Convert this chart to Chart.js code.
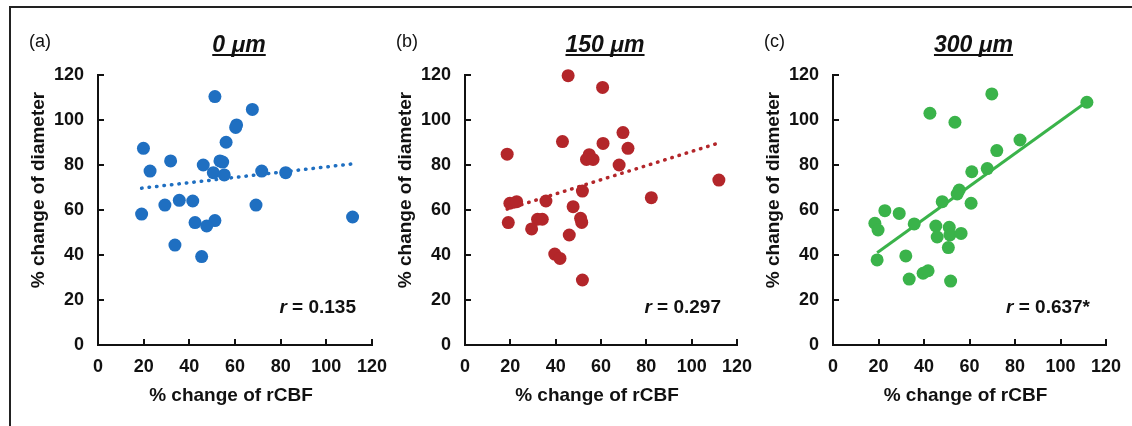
<!DOCTYPE html>
<html>
<head>
<meta charset="utf-8">
<script src="https://cdn.jsdelivr.net/npm/chart.js@4.4.0/dist/chart.umd.min.js"></script>
<style>
  body { margin: 0; background: #fff; }
  #wrap { position: relative; width: 1132px; height: 426px; overflow: hidden; }
  #frame { position: absolute; left: 9px; top: 6px; width: 1200px; height: 500px;
           border-left: 2px solid #222; border-top: 2px solid #222; }
  canvas { position: absolute; top: 0; }
</style>
</head>
<body>
<div id="wrap">
  <div id="frame"></div>
  <canvas id="c0" width="400" height="426" style="left:0px"></canvas>
  <canvas id="c1" width="390" height="426" style="left:380px"></canvas>
  <canvas id="c2" width="382" height="426" style="left:750px"></canvas>
</div>
<script>
const tickValues = [0, 20, 40, 60, 80, 100, 120];

// (a) 0 um
const rcbf0 = [51.2, 67.6, 60.7, 60.3, 56.1, 19.9, 31.8, 53.4, 54.6, 46.1, 22.8, 50.5, 55.3,
               71.7, 82.2, 35.6, 41.5, 29.3, 69.2, 19.1, 111.5, 42.5, 51.2, 47.6, 33.7, 45.4];
const diam0 = [110.4, 104.7, 97.8, 96.7, 90.1, 87.4, 81.8, 81.8, 81.3, 80.0, 77.3, 76.6, 75.6,
               77.3, 76.6, 64.3, 64.0, 62.2, 62.2, 58.2, 56.9, 54.4, 55.3, 52.9, 44.4, 39.3];
const fitX0 = [19.1, 111.5];
const fitY0 = [69.7, 80.5];

// (b) 150 um
const rcbf150 = [45.5, 60.7, 69.7, 43.0, 60.9, 71.9, 18.6, 54.8, 53.6, 56.5, 68.0, 112.0, 51.8, 82.2,
                 19.8, 22.8, 35.7, 47.7, 19.1, 32.0, 34.1, 51.0, 51.5, 29.4, 46.0, 39.6, 41.9, 51.8];
const diam150 = [119.7, 114.5, 94.4, 90.4, 89.6, 87.4, 84.8, 84.6, 82.5, 82.5, 80.0, 73.3, 68.4, 65.5,
                 63.0, 63.7, 64.0, 61.5, 54.4, 55.9, 55.9, 56.3, 54.5, 51.6, 48.9, 40.4, 38.5, 28.9];
const fitX150 = [18.6, 112.0];
const fitY150 = [60.4, 89.8];

// (c) 300 um
const rcbf300 = [69.8, 111.6, 42.6, 53.6, 82.2, 72.0, 61.0, 67.8, 55.5, 54.6, 48.0, 60.7, 22.8, 29.1, 18.4,
                 19.8, 35.7, 45.2, 51.1, 51.4, 56.3, 45.8, 50.7, 19.4, 32.0, 39.6, 41.8, 33.5, 51.7];
const diam300 = [111.6, 107.9, 103.0, 99.0, 91.1, 86.4, 77.0, 78.4, 68.9, 67.1, 63.7, 63.0, 59.7, 58.5, 54.1,
                 51.1, 53.8, 52.9, 52.3, 48.9, 49.6, 48.0, 43.3, 37.8, 39.6, 31.9, 33.0, 29.3, 28.4];
const fitX300 = [19.4, 111.6];
const fitY300 = [41.0, 108.1];

const panels = [
  { id: 'c0', tag: '(a)', head: '0 \u03bcm', r: ' = 0.135', xs: rcbf0, ys: diam0, fx: fitX0, fy: fitY0,
    color: '#1f6fc1', dash: [0.5, 7], left: 98, right: 28 },
  { id: 'c1', tag: '(b)', head: '150 \u03bcm', r: ' = 0.297', xs: rcbf150, ys: diam150, fx: fitX150, fy: fitY150,
    color: '#b3262a', dash: [0.5, 7], left: 85, right: 33 },
  { id: 'c2', tag: '(c)', head: '300 \u03bcm', r: ' = 0.637*', xs: rcbf300, ys: diam300, fx: fitX300, fy: fitY300,
    color: '#3ab34a', dash: [], left: 83, right: 26 }
];

const ink = '#111';
const family = '"Liberation Sans", Arial, sans-serif';

const decor = {
  id: 'decor',
  afterDraw(chart, args, opts) {
    const { ctx, chartArea: a, scales: { x, y } } = chart;
    ctx.save();
    ctx.strokeStyle = ink;
    ctx.fillStyle = ink;
    ctx.lineWidth = 2;

    // inward tick marks
    ctx.beginPath();
    tickValues.forEach(v => {
      const px = Math.round(x.getPixelForValue(v));
      ctx.moveTo(px, a.bottom);
      ctx.lineTo(px, a.bottom - 6);
      const py = Math.round(y.getPixelForValue(v));
      ctx.moveTo(a.left, py);
      ctx.lineTo(a.left + 6, py);
    });
    ctx.stroke();

    const cx = (a.left + a.right) / 2;

    // panel letter
    ctx.font = '18px ' + family;
    ctx.textAlign = 'left';
    ctx.textBaseline = 'middle';
    ctx.fillText(opts.tag, a.left - 69, 42);

    // heading, underlined
    ctx.font = 'italic bold 23px ' + family;
    ctx.textAlign = 'center';
    ctx.textBaseline = 'alphabetic';
    const hx = cx + 4;
    ctx.fillText(opts.head, hx, 52);
    const hw = ctx.measureText(opts.head).width;
    ctx.beginPath();
    ctx.moveTo(hx - hw / 2, 55);
    ctx.lineTo(hx + hw / 2, 55);
    ctx.stroke();

    // correlation text
    ctx.textBaseline = 'middle';
    ctx.textAlign = 'left';
    ctx.font = 'bold 19px ' + family;
    const restW = ctx.measureText(opts.r).width;
    ctx.font = 'italic bold 19px ' + family;
    const rW = ctx.measureText('r').width;
    const rx = a.right - 16 - restW - rW;
    const ry = a.bottom - 37;
    ctx.fillText('r', rx, ry);
    ctx.font = 'bold 19px ' + family;
    ctx.fillText(opts.r, rx + rW, ry);

    // axis titles
    ctx.textAlign = 'center';
    ctx.fillText('% change of rCBF', cx - 4, a.bottom + 51);
    ctx.save();
    ctx.translate(a.left - 59, a.top + 115);
    ctx.rotate(-Math.PI / 2);
    ctx.fillText('% change of diameter', 0, 0);
    ctx.restore();

    ctx.restore();
  }
};

panels.forEach(p => {
  const tickFont = { family: family, size: 18, weight: 'bold' };
  new Chart(document.getElementById(p.id), {
    type: 'scatter',
    data: {
      datasets: [
        {
          data: p.xs.map((v, i) => ({ x: v, y: p.ys[i] })),
          backgroundColor: p.color,
          borderWidth: 0,
          pointRadius: 6.5,
          clip: false
        },
        {
          data: p.fx.map((v, i) => ({ x: v, y: p.fy[i] })),
          showLine: true,
          borderColor: p.color,
          borderWidth: p.dash.length ? 3.5 : 3,
          borderDash: p.dash,
          borderCapStyle: p.dash.length ? 'round' : 'butt',
          pointRadius: 0,
          clip: false
        }
      ]
    },
    options: {
      responsive: false,
      animation: false,
      events: [],
      layout: { padding: { left: 0, right: p.right, top: 75, bottom: 0 } },
      plugins: {
        legend: { display: false },
        tooltip: { enabled: false },
        decor: { tag: p.tag, head: p.head, r: p.r }
      },
      scales: {
        x: {
          type: 'linear', min: 0, max: 120,
          grid: { display: false },
          border: { display: true, color: ink, width: 2 },
          ticks: { stepSize: 20, autoSkip: false, maxRotation: 0, color: ink, font: tickFont, padding: 3 },
          afterFit: s => { s.height = 81; }
        },
        y: {
          type: 'linear', min: 0, max: 120,
          grid: { display: false },
          border: { display: true, color: ink, width: 2 },
          ticks: { stepSize: 20, autoSkip: false, color: ink, font: tickFont, padding: 6 },
          afterFit: s => { s.width = p.left; }
        }
      }
    },
    plugins: [decor]
  });
});
</script>
</body>
</html>
